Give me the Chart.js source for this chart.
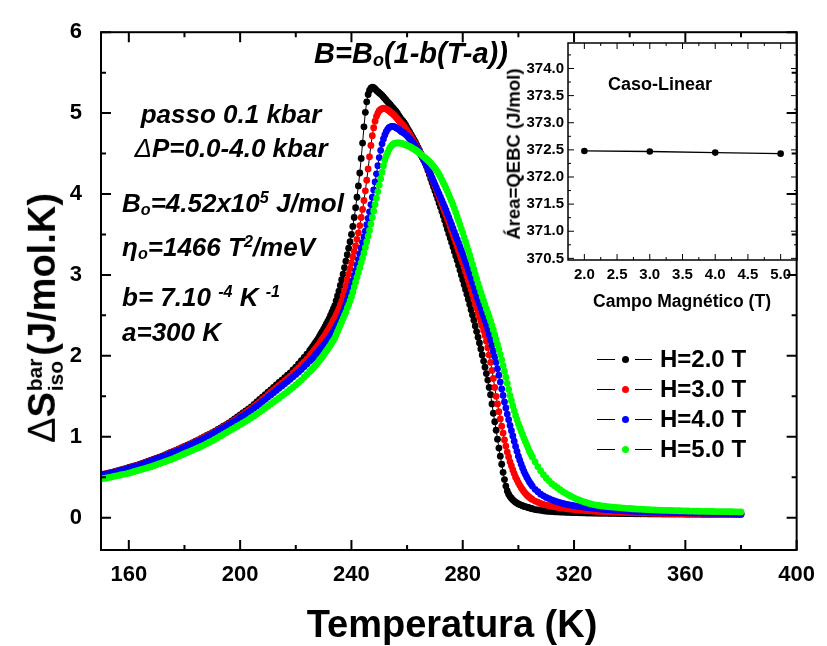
<!DOCTYPE html>
<html lang="pt">
<head>
<meta charset="utf-8">
<title>Variação de entropia barocalórica</title>
<script src="https://cdn.jsdelivr.net/npm/chart.js@4.4.1/dist/chart.umd.min.js"></script>
<style>
  html, body { margin: 0; padding: 0; background: #fff; }
  #fig { position: relative; width: 827px; height: 646px; overflow: hidden;
         font-family: 'Liberation Sans', Arial, sans-serif; color: #000; }
  #fig canvas { position: absolute; }
  .txt { position: absolute; white-space: nowrap; line-height: 1; font-weight: bold; }
  .it { font-style: italic; }
  .c { transform: translate(-50%, -50%); }
  .l { transform: translateY(-50%); }
  sup, sub { font-size: 62%; line-height: 0; }
  sup { vertical-align: 0.55em; }
  sub { vertical-align: -0.2em; }
  .ss { display: inline-block; font-size: 55%; line-height: 1; vertical-align: -0.4em; margin: 0 3px 0 1px; }
  .ss span { display: block; }
  .fino { font-weight: normal; }
</style>
</head>
<body>
<div id="fig">
  <canvas id="principal" width="827" height="646" style="left:0;top:0"></canvas>
  <canvas id="inset" width="330" height="290" style="left:490px;top:30px"></canvas>

  <div class="txt c" style="left:452px;top:624px;font-size:38px">Temperatura (K)</div>
  <div class="txt" style="left:45px;top:318px;font-size:38px;transform:translate(-50%,-50%) rotate(-90deg)"><span class="fino">Δ</span>S<span class="ss"><span>bar</span><span>iso</span></span>(J/mol.K)</div>

  <div class="txt it c" style="left:411px;top:53px;font-size:29px">B=B<sub>o</sub>(1-b(T-a))</div>
  <div class="txt it c" style="left:231px;top:114px;font-size:26px">passo 0.1 kbar</div>
  <div class="txt it c" style="left:231px;top:148px;font-size:26px"><span class="fino">Δ</span>P=0.0-4.0 kbar</div>
  <div class="txt it l" style="left:122px;top:203px;font-size:26px">B<sub>o</sub>=4.52x10<sup>5</sup> J/mol</div>
  <div class="txt it l" style="left:122px;top:247px;font-size:26px">η<sub>o</sub>=1466 T<sup>2</sup>/meV</div>
  <div class="txt it l" style="left:122px;top:297px;font-size:26px">b= 7.10 <sup>-4</sup> K <sup>-1</sup></div>
  <div class="txt it l" style="left:122px;top:332px;font-size:26px">a=300 K</div>

  <div class="txt c" style="left:660px;top:84px;font-size:18px">Caso-Linear</div>
  <div class="txt c" style="left:682px;top:302px;font-size:17.5px">Campo Magnético (T)</div>
  <div class="txt" style="left:514px;top:154px;font-size:18.5px;transform:translate(-50%,-50%) rotate(-90deg)">Área=QEBC (J/mol)</div>
</div>

<script>
// Temperaturas (K) comuns às quatro curvas: passo 1 K nas caudas, 0.5 K no pico
const temperaturaK = [
  150,151,152,153,154,155,156,157,158,159,
  160,161,162,163,164,165,166,167,168,169,
  170,171,172,173,174,175,176,177,178,179,
  180,181,182,183,184,185,186,187,188,189,
  190,191,192,193,194,195,196,197,198,199,
  200,201,202,203,204,205,206,207,208,209,
  210,211,212,213,214,215,216,217,218,219,
  220,221,222,223,224,225,
  225.5,226,226.5,227,227.5,228,228.5,229,229.5,
  230,230.5,231,231.5,232,232.5,233,233.5,234,234.5,
  235,235.5,236,236.5,237,237.5,238,238.5,239,239.5,
  240,240.5,241,241.5,242,242.5,243,243.5,244,244.5,
  245,245.5,246,246.5,247,247.5,248,248.5,249,249.5,
  250,250.5,251,251.5,252,252.5,253,253.5,254,254.5,
  255,255.5,256,256.5,257,257.5,258,258.5,259,259.5,
  260,260.5,261,261.5,262,262.5,263,263.5,264,264.5,
  265,265.5,266,266.5,267,267.5,268,268.5,269,269.5,
  270,270.5,271,271.5,272,272.5,273,273.5,274,274.5,
  275,275.5,276,276.5,277,277.5,278,278.5,279,279.5,
  280,280.5,281,281.5,282,282.5,283,283.5,284,284.5,
  285,285.5,286,286.5,287,287.5,288,288.5,289,289.5,
  290,290.5,291,291.5,292,292.5,293,293.5,294,294.5,
  295,295.5,296,296.5,297,297.5,298,298.5,299,299.5,
  300,300.5,301,301.5,302,302.5,303,303.5,304,304.5,
  305,
  306,307,308,309,310,311,312,313,314,315,
  316,317,318,319,320,321,322,323,324,325,
  326,327,328,329,330,331,332,333,334,335,
  336,337,338,339,340,341,342,343,344,345,
  346,347,348,349,350,351,352,353,354,355,
  356,357,358,359,360,361,362,363,364,365,
  366,367,368,369,370,371,372,373,374,375,
  376,377,378,379,380
];

// ΔS_iso (J/mol.K) para cada campo
const dsH20 = [
  .530,.537,.545,.552,.560,.570,.580,.590,.600,.610,
  .620,.630,.640,.650,.660,.672,.685,.697,.710,.722,
  .735,.747,.760,.775,.790,.805,.820,.835,.850,.865,
  .880,.895,.910,.927,.945,.962,.980,.997,1.015,1.032,
  1.050,1.070,1.090,1.110,1.130,1.150,1.170,1.195,1.220,1.245,
  1.270,1.295,1.320,1.345,1.370,1.400,1.430,1.460,1.490,1.520,
  1.550,1.580,1.610,1.640,1.670,1.700,1.730,1.760,1.790,1.825,
  1.860,1.900,1.940,1.980,2.020,2.065,
  2.087,2.110,2.135,2.160,2.185,2.210,2.240,2.270,2.300,
  2.330,2.362,2.395,2.427,2.460,2.500,2.540,2.580,2.620,2.680,
  2.74,2.80,2.87,2.94,3.01,3.09,3.17,3.25,3.33,3.41,
  3.50,3.60,3.71,3.83,3.96,4.10,4.26,4.44,4.63,4.83,
  5.01,5.14,5.23,5.28,5.31,5.32,5.315,5.30,5.28,5.265,
  5.25,5.235,5.22,5.20,5.18,5.16,5.14,5.12,5.10,5.08,
  5.06,5.04,5.02,5.00,4.97,4.945,4.92,4.90,4.88,4.85,
  4.82,4.79,4.76,4.73,4.70,4.67,4.64,4.605,4.57,4.535,
  4.50,4.46,4.42,4.38,4.34,4.29,4.24,4.19,4.14,4.09,
  4.04,3.99,3.94,3.89,3.84,3.785,3.73,3.675,3.62,3.565,
  3.51,3.455,3.40,3.345,3.29,3.235,3.18,3.12,3.06,3.00,
  2.94,2.88,2.82,2.76,2.70,2.635,2.57,2.505,2.44,2.37,
  2.30,2.23,2.16,2.085,2.01,1.935,1.86,1.78,1.70,1.61,
  1.52,1.405,1.29,1.185,1.08,0.97,0.86,0.76,0.66,0.56,
  0.47,0.39,0.33,0.29,0.26,0.24,0.22,0.205,0.19,0.18,
  0.17,0.162,0.155,0.147,0.14,0.135,0.13,0.125,0.12,0.115,
  0.11,
  .100,.095,.090,.085,.080,.077,.075,.073,.071,.0695,
  .068,.0665,.065,.0635,.062,.061,.060,.059,.058,.057,
  .056,.0555,.055,.0545,.054,.0535,.053,.0525,.052,.0515,
  .051,.0505,.050,.0495,.049,.0485,.048,.0475,.047,.047,
  .047,.0465,.046,.046,.046,.0455,.045,.045,.045,.0445,
  .044,.044,.044,.0435,.043,.043,.043,.043,.043,.0425,
  .042,.042,.042,.042,.042,.0415,.041,.041,.041,.041,
  .041,.0405,.040,.040,.040
];
const dsH30 = [
  .530,.537,.545,.552,.560,.567,.575,.585,.595,.605,
  .615,.625,.635,.645,.655,.667,.680,.692,.705,.717,
  .730,.742,.755,.770,.785,.800,.815,.830,.845,.860,
  .875,.890,.905,.922,.940,.957,.975,.992,1.010,1.025,
  1.040,1.060,1.080,1.100,1.120,1.140,1.160,1.182,1.205,1.227,
  1.250,1.275,1.300,1.325,1.350,1.377,1.405,1.432,1.460,1.490,
  1.520,1.550,1.580,1.607,1.635,1.662,1.690,1.720,1.750,1.785,
  1.820,1.855,1.890,1.925,1.960,2.000,
  2.020,2.040,2.062,2.085,2.107,2.130,2.155,2.180,2.205,
  2.230,2.257,2.285,2.312,2.340,2.372,2.405,2.437,2.470,2.505,
  2.54,2.58,2.63,2.68,2.74,2.80,2.87,2.94,3.01,3.08,
  3.15,3.22,3.29,3.36,3.44,3.52,3.61,3.71,3.81,3.92,
  4.04,4.17,4.31,4.46,4.60,4.72,4.82,4.90,4.96,5.00,
  5.03,5.045,5.055,5.06,5.055,5.05,5.04,5.03,5.015,5.00,
  4.985,4.97,4.95,4.93,4.91,4.89,4.87,4.85,4.83,4.805,
  4.78,4.755,4.73,4.70,4.67,4.64,4.61,4.58,4.55,4.52,
  4.49,4.455,4.42,4.385,4.35,4.31,4.27,4.23,4.19,4.145,
  4.10,4.055,4.01,3.965,3.92,3.875,3.83,3.785,3.74,3.695,
  3.65,3.60,3.55,3.50,3.45,3.40,3.35,3.30,3.25,3.20,
  3.15,3.095,3.04,2.985,2.93,2.875,2.82,2.76,2.70,2.645,
  2.59,2.535,2.48,2.425,2.37,2.31,2.25,2.18,2.10,2.01,
  1.92,1.82,1.72,1.61,1.50,1.405,1.31,1.22,1.13,1.045,
  0.96,0.885,0.81,0.75,0.69,0.64,0.59,0.545,0.50,0.465,
  0.43,0.40,0.37,0.345,0.32,0.30,0.28,0.265,0.25,0.237,
  0.225,
  .205,.190,.175,.165,.155,.147,.140,.134,.128,.122,
  .117,.112,.108,.104,.100,.097,.094,.091,.088,.085,
  .083,.081,.079,.077,.075,.0735,.072,.0705,.069,.0675,
  .066,.065,.064,.063,.062,.061,.060,.059,.058,.0575,
  .057,.056,.055,.0545,.054,.0535,.053,.0525,.052,.0515,
  .051,.0505,.050,.0495,.049,.049,.049,.0485,.048,.0475,
  .047,.047,.047,.0465,.046,.046,.046,.0455,.045,.045,
  .045,.045,.045,.0445,.044
];
const dsH40 = [
  .530,.535,.540,.547,.555,.562,.570,.580,.590,.600,
  .610,.620,.630,.640,.650,.662,.675,.687,.700,.712,
  .725,.737,.750,.762,.775,.790,.805,.820,.835,.850,
  .865,.880,.895,.912,.930,.945,.960,.977,.995,1.012,
  1.030,1.050,1.070,1.090,1.110,1.130,1.150,1.170,1.190,1.212,
  1.235,1.257,1.280,1.305,1.330,1.355,1.380,1.407,1.435,1.462,
  1.490,1.517,1.545,1.572,1.600,1.627,1.655,1.682,1.710,1.740,
  1.770,1.800,1.830,1.865,1.900,1.935,
  1.952,1.970,1.990,2.010,2.030,2.050,2.070,2.090,2.110,
  2.130,2.152,2.175,2.197,2.220,2.247,2.275,2.302,2.330,2.360,
  2.39,2.42,2.46,2.50,2.54,2.59,2.64,2.69,2.75,2.81,
  2.87,2.93,2.99,3.05,3.12,3.19,3.26,3.33,3.40,3.47,
  3.54,3.62,3.70,3.78,3.87,3.96,4.05,4.15,4.25,4.35,
  4.45,4.54,4.62,4.68,4.73,4.77,4.80,4.82,4.83,4.835,
  4.835,4.83,4.82,4.81,4.80,4.785,4.77,4.76,4.75,4.735,
  4.72,4.70,4.68,4.66,4.64,4.615,4.59,4.565,4.54,4.51,
  4.48,4.45,4.42,4.385,4.35,4.315,4.28,4.24,4.20,4.16,
  4.12,4.08,4.04,4.00,3.96,3.92,3.88,3.84,3.80,3.755,
  3.71,3.665,3.62,3.575,3.53,3.485,3.44,3.395,3.35,3.305,
  3.26,3.21,3.16,3.11,3.06,3.01,2.96,2.905,2.85,2.795,
  2.74,2.69,2.64,2.59,2.54,2.49,2.44,2.385,2.33,2.265,
  2.20,2.13,2.06,1.99,1.92,1.84,1.76,1.675,1.59,1.51,
  1.43,1.355,1.28,1.21,1.14,1.075,1.01,0.945,0.88,0.82,
  0.76,0.71,0.66,0.615,0.57,0.535,0.50,0.47,0.44,0.415,
  0.39,
  .350,.320,.290,.270,.250,.235,.220,.207,.195,.185,
  .175,.167,.160,.154,.148,.142,.137,.132,.128,.124,
  .120,.116,.112,.108,.105,.102,.099,.096,.094,.091,
  .089,.087,.085,.083,.081,.0795,.078,.0765,.075,.0735,
  .072,.071,.070,.069,.068,.067,.066,.065,.064,.063,
  .062,.0615,.061,.0605,.060,.059,.058,.0575,.057,.0565,
  .056,.0555,.055,.0545,.054,.0535,.053,.053,.053,.0525,
  .052,.0515,.051,.0505,.050
];
const dsH50 = [
  .480,.485,.490,.497,.505,.512,.520,.527,.535,.542,
  .550,.560,.570,.580,.590,.600,.610,.620,.630,.642,
  .655,.667,.680,.692,.705,.717,.730,.745,.760,.775,
  .790,.805,.820,.835,.850,.865,.880,.897,.915,.932,
  .950,.970,.990,1.010,1.030,1.050,1.070,1.090,1.110,1.130,
  1.150,1.170,1.190,1.212,1.235,1.257,1.280,1.305,1.330,1.355,
  1.380,1.405,1.430,1.455,1.480,1.505,1.530,1.557,1.585,1.612,
  1.640,1.670,1.700,1.735,1.770,1.805,
  1.822,1.840,1.860,1.880,1.900,1.920,1.942,1.965,1.987,
  2.010,2.035,2.060,2.085,2.110,2.135,2.165,2.190,2.220,2.260,
  2.30,2.34,2.38,2.42,2.46,2.50,2.54,2.59,2.63,2.68,
  2.73,2.79,2.85,2.91,2.97,3.03,3.09,3.15,3.21,3.27,
  3.34,3.41,3.48,3.55,3.63,3.71,3.79,3.87,3.95,4.03,
  4.11,4.19,4.27,4.35,4.42,4.47,4.51,4.55,4.58,4.60,
  4.615,4.625,4.63,4.632,4.632,4.63,4.625,4.62,4.615,4.607,
  4.60,4.592,4.585,4.575,4.565,4.555,4.545,4.532,4.52,4.505,
  4.49,4.475,4.46,4.445,4.43,4.415,4.40,4.38,4.36,4.34,
  4.32,4.295,4.27,4.24,4.21,4.175,4.14,4.105,4.07,4.03,
  3.99,3.95,3.91,3.865,3.82,3.77,3.72,3.67,3.62,3.57,
  3.52,3.465,3.41,3.355,3.30,3.245,3.19,3.13,3.07,3.01,
  2.95,2.895,2.84,2.785,2.73,2.68,2.63,2.58,2.53,2.48,
  2.43,2.375,2.32,2.26,2.20,2.14,2.08,2.015,1.95,1.88,
  1.81,1.735,1.66,1.585,1.51,1.445,1.38,1.32,1.26,1.21,
  1.16,1.115,1.07,1.025,0.98,0.94,0.90,0.86,0.82,0.785,
  0.75,
  .690,.630,.580,.530,.490,.455,.420,.395,.370,.345,
  .320,.300,.280,.262,.245,.230,.215,.202,.190,.180,
  .170,.162,.155,.150,.145,.141,.137,.133,.130,.127,
  .124,.121,.118,.115,.113,.110,.108,.106,.104,.102,
  .100,.098,.097,.0955,.094,.0925,.091,.090,.089,.088,
  .087,.086,.085,.084,.083,.082,.081,.0805,.080,.079,
  .078,.0775,.077,.0765,.076,.0755,.075,.0745,.074,.0735,
  .073,.0725,.072,.0715,.071
];

const rotulosH = ['H=2.0 T', 'H=3.0 T', 'H=4.0 T', 'H=5.0 T'];
const coresH = ['#000000', '#ff0000', '#0000ff', '#00ff00'];
const seriesDS = [dsH20, dsH30, dsH40, dsH50];

// ticks do gráfico principal
const xTicksPrincipal = [160, 200, 240, 280, 320, 360, 400];
const xMenoresPrincipal = [180, 220, 260, 300, 340, 380];
const yTicksPrincipal = [0, 1, 2, 3, 4, 5, 6];
const yMenoresPrincipal = [0.5, 1.5, 2.5, 3.5, 4.5, 5.5];

// inset: área sob a curva em função do campo
const campoT = [2.0, 3.0, 4.0, 5.0];
const areaQEBC = [372.48, 372.47, 372.45, 372.43];
const xTicksInset = [2.0, 2.5, 3.0, 3.5, 4.0, 4.5, 5.0];
const xMenoresInset = [2.25, 2.75, 3.25, 3.75, 4.25, 4.75];
const yTicksInset = [370.5, 371.0, 371.5, 372.0, 372.5, 373.0, 373.5, 374.0];
const yMenoresInset = [370.75, 371.25, 371.75, 372.25, 372.75, 373.25, 373.75, 374.25];

Chart.defaults.font.family = "'Liberation Sans', Arial, sans-serif";
Chart.defaults.color = '#000';

// moldura fechada com ticks para dentro nos quatro lados
const frameTicks = {
  id: 'frameTicks',
  afterDatasetsDraw(chart, args, o) {
    const { ctx, chartArea: a } = chart;
    const sx = chart.scales.x, sy = chart.scales.y;
    ctx.save();
    ctx.strokeStyle = '#000';
    ctx.lineWidth = o.tickWidth;
    ctx.beginPath();
    const vTicks = (vals, len) => vals.forEach(v => {
      const px = sx.getPixelForValue(v);
      ctx.moveTo(px, a.bottom); ctx.lineTo(px, a.bottom - len);
      ctx.moveTo(px, a.top); ctx.lineTo(px, a.top + len);
    });
    const hTicks = (vals, len) => vals.forEach(v => {
      const py = sy.getPixelForValue(v);
      ctx.moveTo(a.left, py); ctx.lineTo(a.left + len, py);
      ctx.moveTo(a.right, py); ctx.lineTo(a.right - len, py);
    });
    vTicks(o.xMajor, o.major); vTicks(o.xMinor, o.minor);
    hTicks(o.yMajor, o.major); hTicks(o.yMinor, o.minor);
    ctx.stroke();
    ctx.lineWidth = o.frameWidth;
    ctx.strokeRect(a.left, a.top, a.right - a.left, a.bottom - a.top);
    ctx.restore();
  }
};

const fonteTicks = { size: 22, weight: 'bold' };

new Chart(document.getElementById('principal'), {
  type: 'scatter',
  data: {
    datasets: seriesDS.map((vals, i) => ({
      label: rotulosH[i],
      data: temperaturaK.map((t, k) => ({ x: t, y: vals[k] })),
      showLine: true,
      borderColor: '#000',
      borderWidth: 1,
      pointRadius: 3.4,
      pointBorderWidth: 0,
      pointBackgroundColor: coresH[i],
      order: seriesDS.length - i   // H=5.0 T fica por cima
    }))
  },
  options: {
    responsive: false,
    animation: false,
    events: [],
    layout: { padding: { top: 27, right: 24, left: 0, bottom: 0 } },
    plugins: {
      legend: { display: false },
      tooltip: { enabled: false },
      frameTicks: {
        xMajor: xTicksPrincipal, xMinor: xMenoresPrincipal,
        yMajor: yTicksPrincipal, yMinor: yMenoresPrincipal,
        major: 10, minor: 5, tickWidth: 2, frameWidth: 2
      }
    },
    scales: {
      x: {
        type: 'linear', min: 150, max: 400,
        grid: { display: false, drawTicks: false },
        border: { display: false },
        ticks: { font: fonteTicks, padding: 12 },
        afterBuildTicks: s => { s.ticks = xTicksPrincipal.map(v => ({ value: v })); },
        afterFit: s => { s.height = 96; }
      },
      y: {
        type: 'linear', min: -0.4, max: 6,
        grid: { display: false, drawTicks: false },
        border: { display: false },
        ticks: { font: fonteTicks, padding: 19 },
        afterBuildTicks: s => { s.ticks = yTicksPrincipal.map(v => ({ value: v })); },
        afterFit: s => { s.width = 101; }
      }
    }
  },
  plugins: [frameTicks]
});

const fonteInset = { size: 15, weight: 'bold' };

new Chart(document.getElementById('inset'), {
  type: 'scatter',
  data: {
    datasets: [{
      data: campoT.map((h, k) => ({ x: h, y: areaQEBC[k] })),
      showLine: true,
      borderColor: '#000',
      borderWidth: 1.3,
      pointRadius: 3.3,
      pointBorderWidth: 0,
      pointBackgroundColor: '#000'
    }]
  },
  options: {
    responsive: false,
    animation: false,
    events: [],
    layout: { padding: { top: 13, right: 23, left: 0, bottom: 0 } },
    plugins: {
      legend: { display: false },
      tooltip: { enabled: false },
      frameTicks: {
        xMajor: xTicksInset, xMinor: xMenoresInset,
        yMajor: yTicksInset, yMinor: yMenoresInset,
        major: 6, minor: 3, tickWidth: 1, frameWidth: 1.5
      }
    },
    scales: {
      x: {
        type: 'linear', min: 1.75, max: 5.25,
        grid: { display: false, drawTicks: false },
        border: { display: false },
        ticks: { font: fonteInset, padding: 6, callback: v => v.toFixed(1) },
        afterBuildTicks: s => { s.ticks = xTicksInset.map(v => ({ value: v })); },
        afterFit: s => { s.height = 60; }
      },
      y: {
        type: 'linear', min: 370.47, max: 374.47,
        grid: { display: false, drawTicks: false },
        border: { display: false },
        ticks: { font: fonteInset, padding: 4, callback: v => v.toFixed(1) },
        afterBuildTicks: s => { s.ticks = yTicksInset.map(v => ({ value: v })); },
        afterFit: s => { s.width = 78; }
      }
    }
  },
  plugins: [frameTicks]
});

// legenda: traço — ponto — traço e rótulo
const fig = document.getElementById('fig');
function bloco(css) {
  const d = document.createElement('div');
  d.style.cssText = 'position:absolute;' + css;
  fig.appendChild(d);
  return d;
}
rotulosH.forEach((rot, i) => {
  const y = 359 + i * 30;
  bloco(`left:597px;top:${y}px;width:18px;height:1px;background:#000`);
  bloco(`left:621.5px;top:${y - 3}px;width:7px;height:7px;border-radius:50%;background:${coresH[i]}`);
  bloco(`left:635px;top:${y}px;width:17px;height:1px;background:#000`);
  const t = bloco(`left:660px;top:${y}px;font-size:24px`);
  t.className = 'txt l';
  t.textContent = rot;
});
</script>
</body>
</html>
